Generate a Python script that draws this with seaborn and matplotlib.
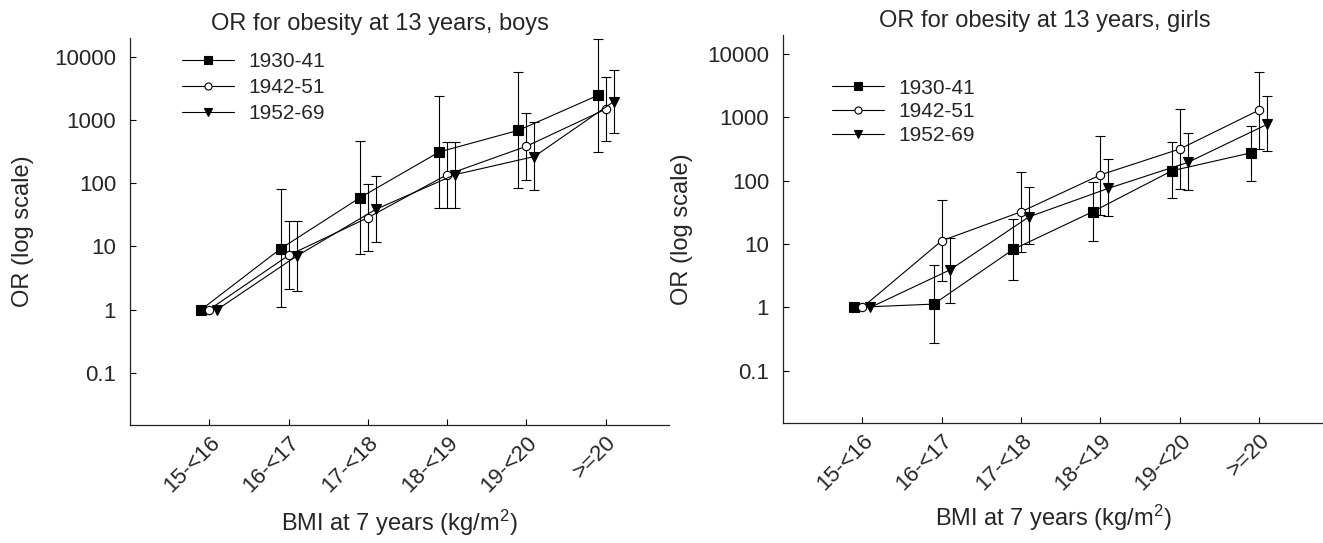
import matplotlib
matplotlib.use("Agg")
import matplotlib.pyplot as plt
from matplotlib.ticker import NullLocator
import seaborn as sns


sns.set_theme(style="ticks")
plt.rcParams["font.family"] = ["Liberation Sans", "DejaVu Sans"]
plt.rcParams["mathtext.default"] = "regular"

bmi_groups = ["15-<16", "16-<17", "17-<18", "18-<19", "19-<20", ">=20"]
cohorts = ["1930-41", "1942-51", "1952-69"]
y_ticks = [0.1, 1, 10, 100, 1000, 10000]
y_tick_labels = ["0.1", "1", "10", "100", "1000", "10000"]

# boys, odds ratios with 95% CI
boys_1930_or = [1, 9.2, 59, 313, 690, 2460]
boys_1930_lo = [1, 1.1, 7.6, 40, 83, 313]
boys_1930_hi = [1, 80, 470, 2400, 5800, 19500]
boys_1942_or = [1, 7.2, 28.5, 137, 385, 1490]
boys_1942_lo = [1, 2.1, 8.4, 40, 113, 465]
boys_1942_hi = [1, 25, 96, 455, 1280, 4900]
boys_1952_or = [1, 7.0, 38.6, 137, 265, 1960]
boys_1952_lo = [1, 2.0, 11.8, 41, 78, 615]
boys_1952_hi = [1, 25, 131, 455, 920, 6300]

# girls
girls_1930_or = [1, 1.13, 8.25, 32.4, 144, 277]
girls_1930_lo = [1, 0.27, 2.7, 11.4, 53, 100]
girls_1930_hi = [1, 4.65, 24.8, 94, 405, 740]
girls_1942_or = [1, 11.3, 32.4, 124, 318, 1310]
girls_1942_lo = [1, 2.57, 7.4, 28.7, 73, 320]
girls_1942_hi = [1, 49.6, 139, 515, 1340, 5300]
girls_1952_or = [1, 3.9, 27, 76, 195, 780]
girls_1952_lo = [1, 1.18, 10, 28, 71, 291]
girls_1952_hi = [1, 12.3, 80, 220, 560, 2150]

markers = ["s", "o", "v"]
face_colors = ["black", "white", "black"]
dodge = [-0.1, 0.0, 0.1]


def draw_panel(ax, series, title, title_x, legend_anchor, labelspacing):
    for k, (est, lo, hi) in enumerate(series):
        xpos = [i + dodge[k] for i in range(len(bmi_groups))]
        # confidence intervals (reference category has none)
        idx = [i for i in range(len(est)) if hi[i] != lo[i]]
        ax.errorbar(
            [xpos[i] for i in idx],
            [est[i] for i in idx],
            yerr=[[est[i] - lo[i] for i in idx], [hi[i] - est[i] for i in idx]],
            fmt="none",
            ecolor="black",
            elinewidth=0.8,
            capsize=3.6,
            capthick=0.8,
            zorder=1.5,
        )
        sns.lineplot(
            x=xpos,
            y=est,
            ax=ax,
            color="black",
            linewidth=0.8,
            marker=markers[k],
            markersize=6.5 if markers[k] != "o" else 6,
            markerfacecolor=face_colors[k],
            markeredgecolor="black",
            markeredgewidth=0.8,
            errorbar=None,
            sort=False,
            label=cohorts[k],
            zorder=2,
        )

    ax.set_yscale("log")
    ax.set_ylim(0.0148, 20000)
    ax.set_xlim(-1, 5.8)
    ax.set_yticks(y_ticks, labels=y_tick_labels)
    ax.yaxis.set_minor_locator(NullLocator())
    ax.set_xticks(range(len(bmi_groups)))
    ax.set_xticklabels(bmi_groups, rotation=45, ha="right", rotation_mode="anchor")
    ax.tick_params(axis="y", direction="in", length=4, width=0.8, pad=10,
                   labelsize=16, color="black")
    ax.tick_params(axis="x", direction="in", length=4, width=0.8, pad=5,
                   labelsize=16, color="black")
    for side in ["left", "bottom"]:
        ax.spines[side].set_color("#222222")
        ax.spines[side].set_linewidth(0.9)
    sns.despine(ax=ax)

    ax.set_title(title, fontsize=17, x=title_x, pad=6)
    ax.set_ylabel("OR (log scale)", fontsize=17)
    ax.set_xlabel("BMI at 7 years (kg/m$^2$)", fontsize=17)
    ax.grid(False)

    ax.legend(
        loc="upper left",
        bbox_to_anchor=legend_anchor,
        frameon=False,
        fontsize=15,
        handlelength=2.5,
        handletextpad=0.7,
        labelspacing=labelspacing,
        borderpad=0,
        borderaxespad=0,
        markerscale=0.85,
    )


fig = plt.figure(figsize=(13.23, 5.43), dpi=100)
ax_boys = fig.add_axes([0.0983, 0.2173, 0.4074, 0.7127])
ax_girls = fig.add_axes([0.5918, 0.2204, 0.408, 0.715])

draw_panel(
    ax_boys,
    [(boys_1930_or, boys_1930_lo, boys_1930_hi),
     (boys_1942_or, boys_1942_lo, boys_1942_hi),
     (boys_1952_or, boys_1952_lo, boys_1952_hi)],
    "OR for obesity at 13 years, boys",
    0.464,
    (0.096, 0.963),
    0.33,
)
draw_panel(
    ax_girls,
    [(girls_1930_or, girls_1930_lo, girls_1930_hi),
     (girls_1942_or, girls_1942_lo, girls_1942_hi),
     (girls_1952_or, girls_1952_lo, girls_1952_hi)],
    "OR for obesity at 13 years, girls",
    0.485,
    (0.090, 0.888),
    0.23,
)

ax_boys.yaxis.set_label_coords(-0.178, 0.5)
ax_girls.yaxis.set_label_coords(-0.167, 0.5)
ax_boys.xaxis.set_label_coords(0.5, -0.215)
ax_girls.xaxis.set_label_coords(0.5, -0.205)

fig.savefig("out.png", dpi=100)
